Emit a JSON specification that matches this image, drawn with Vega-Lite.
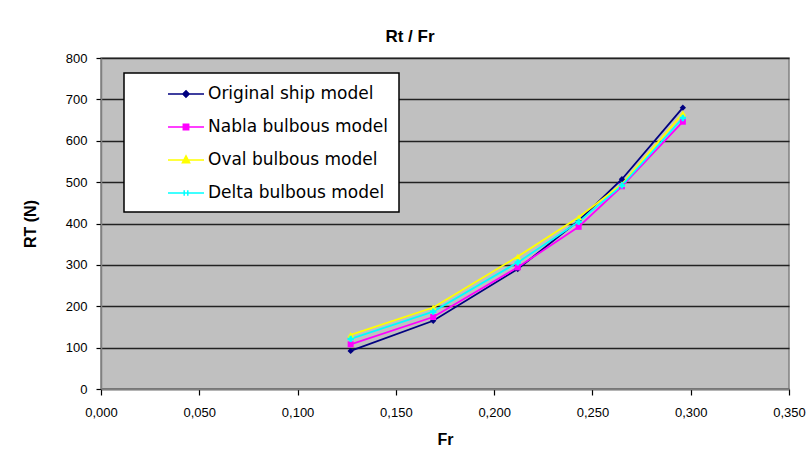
{
  "$schema": "https://vega.github.io/schema/vega-lite/v6.json",
  "width": 688,
  "height": 331,
  "autosize": {"type": "none"},
  "padding": {"left": 101, "top": 58, "right": 20, "bottom": 68},
  "background": "white",
  "title": {"text": "Rt / Fr", "font": "Liberation Sans", "fontSize": 17, "fontWeight": "bold", "color": "black", "anchor": "middle", "dx": -35, "offset": 6},
  "config": {
    "locale": {"number": {"decimal": ",", "thousands": ".", "grouping": [3], "currency": ["", " €"]}},
    "view": {"fill": "#c0c0c0", "stroke": "#808080", "strokeWidth": 1.5},
    "font": "Liberation Sans"
  },
  "data": {"values": [
    {"series": "Original ship model", "Fr": 0.127, "RT": 92},
    {"series": "Original ship model", "Fr": 0.169, "RT": 165},
    {"series": "Original ship model", "Fr": 0.212, "RT": 290},
    {"series": "Original ship model", "Fr": 0.243, "RT": 407},
    {"series": "Original ship model", "Fr": 0.265, "RT": 507},
    {"series": "Original ship model", "Fr": 0.296, "RT": 680},
    {"series": "Nabla bulbous model", "Fr": 0.127, "RT": 108},
    {"series": "Nabla bulbous model", "Fr": 0.169, "RT": 174},
    {"series": "Nabla bulbous model", "Fr": 0.212, "RT": 294},
    {"series": "Nabla bulbous model", "Fr": 0.243, "RT": 392},
    {"series": "Nabla bulbous model", "Fr": 0.265, "RT": 490},
    {"series": "Nabla bulbous model", "Fr": 0.296, "RT": 646},
    {"series": "Oval bulbous model", "Fr": 0.127, "RT": 131},
    {"series": "Oval bulbous model", "Fr": 0.169, "RT": 197},
    {"series": "Oval bulbous model", "Fr": 0.212, "RT": 320},
    {"series": "Oval bulbous model", "Fr": 0.243, "RT": 415},
    {"series": "Oval bulbous model", "Fr": 0.265, "RT": 495},
    {"series": "Oval bulbous model", "Fr": 0.296, "RT": 666},
    {"series": "Delta bulbous model", "Fr": 0.127, "RT": 121},
    {"series": "Delta bulbous model", "Fr": 0.169, "RT": 187},
    {"series": "Delta bulbous model", "Fr": 0.212, "RT": 306},
    {"series": "Delta bulbous model", "Fr": 0.243, "RT": 404},
    {"series": "Delta bulbous model", "Fr": 0.265, "RT": 492},
    {"series": "Delta bulbous model", "Fr": 0.296, "RT": 655}
  ]},
  "encoding": {
    "x": {"field": "Fr", "type": "quantitative",
      "scale": {"domain": [0, 0.35], "nice": false, "zero": true},
      "axis": {"title": "Fr", "values": [0, 0.05, 0.1, 0.15, 0.2, 0.25, 0.3, 0.35], "format": ".3f", "grid": false,
        "domainColor": "#808080", "domainWidth": 1.5, "tickColor": "black", "tickSize": 6, "tickWidth": 1.2,
        "labelFont": "Liberation Sans", "labelFontSize": 13, "labelColor": "black", "labelPadding": 11, "labelFlush": false,
        "titleFont": "Liberation Sans", "titleFontSize": 16, "titleFontWeight": "bold", "titleColor": "black", "titlePadding": 12}},
    "y": {"field": "RT", "type": "quantitative",
      "scale": {"domain": [0, 800], "nice": false},
      "axis": {"title": "RT (N)", "values": [0, 100, 200, 300, 400, 500, 600, 700, 800], "grid": true,
        "gridColor": "#222222", "gridWidth": 1.5, "gridOpacity": 1,
        "domainColor": "#808080", "domainWidth": 1.5, "tickColor": "black", "tickSize": 5, "tickWidth": 1.2,
        "labelFont": "Liberation Sans", "labelFontSize": 13, "labelColor": "black", "labelPadding": 9,
        "titleFont": "Liberation Sans", "titleFontSize": 16, "titleFontWeight": "bold", "titleColor": "black", "titlePadding": 27}},
    "color": {"field": "series", "type": "nominal",
      "scale": {"domain": ["Original ship model", "Nabla bulbous model", "Oval bulbous model", "Delta bulbous model"],
                "range": ["#000080", "#ff00ff", "#ffff00", "#00ffff"]},
      "legend": {"title": null, "orient": "none", "legendX": 23, "legendY": 15,
           "fillColor": "white", "strokeColor": "black", "cornerRadius": 0,
           "padding": 11, "rowPadding": 15, "symbolSize": 324, "symbolOffset": 41, "labelOffset": 12,
           "symbolStrokeWidth": 1.5, "symbolOpacity": 1, "symbolType": "circle",
           "labelFont": "DejaVu Sans", "labelFontSize": 17, "labelColor": "black", "labelLimit": 400,
           "encode": {
             "legend": {"update": {"strokeWidth": {"value": 1.5}, "width": {"value": 294}}},
             "symbols": {"update": {
             "shape": {"signal": "datum.value === 'Original ship model' ? 'M-2,0H2M0,-0.35L0.35,0L0,0.35L-0.35,0Z' : datum.value === 'Nabla bulbous model' ? 'M-2,0H2M-0.3,-0.3H0.3V0.3H-0.3Z' : datum.value === 'Oval bulbous model' ? 'M-2,0H2M0,-0.45L0.4,0.3H-0.4Z' : 'M-2,0H2M-0.2,-0.3V0.3M0.2,-0.3V0.3'"},
             "stroke": {"scale": "color", "field": "value"},
             "fill": {"scale": "color", "field": "value"}
           }}}}
    }
  },
  "layer": [
    {"mark": {"type": "line", "strokeWidth": 1.8}},
    {"transform": [{"filter": "datum.series === 'Original ship model'"}],
     "mark": {"type": "point", "filled": true, "opacity": 1, "size": 40, "shape": "diamond"}},
    {"transform": [{"filter": "datum.series === 'Nabla bulbous model'"}],
     "mark": {"type": "point", "filled": true, "opacity": 1, "size": 36, "shape": "square"}},
    {"transform": [{"filter": "datum.series === 'Oval bulbous model'"}],
     "mark": {"type": "point", "filled": true, "opacity": 1, "size": 45, "shape": "triangle-up"}},
    {"transform": [{"filter": "datum.series === 'Delta bulbous model'"}],
     "mark": {"type": "point", "filled": true, "opacity": 1, "size": 40, "shape": "cross"}}
  ]
}
